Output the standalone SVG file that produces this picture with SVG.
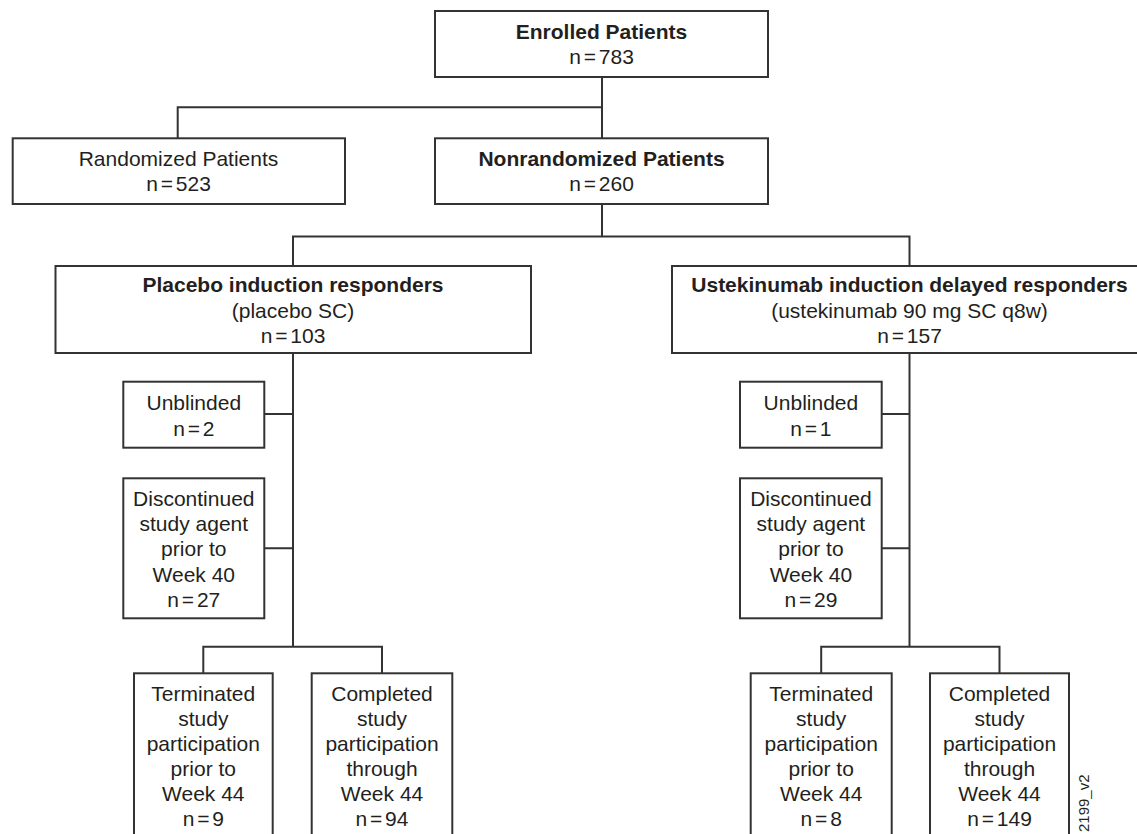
<svg xmlns="http://www.w3.org/2000/svg" width="1137" height="834" viewBox="0 0 1137 834">
<style>
.box{fill:#fff;stroke:#333;stroke-width:2}
.ln{fill:none;stroke:#333;stroke-width:2}
text{font-family:"Liberation Sans",Arial,sans-serif;font-size:21px;fill:#231f20;text-anchor:middle}
.b{font-weight:bold}
.n{word-spacing:-3px}
.id{font-size:15px;text-anchor:start}
</style>
<rect width="1137" height="834" fill="#fff"/>
<g id="connectors">
<path class="ln" d="M602,77V138M177.7,138V107.3H602"/>
<path class="ln" d="M602,204V236.5M293,266V236.5H909.5V266"/>
<path class="ln" d="M293,353V646.7M264.3,414H293M264.3,548.3H293M203.3,673.3V646.7H382V673.3"/>
<path class="ln" d="M909.5,353V646.7M881.7,414H909.5M881.7,548.3H909.5M821.2,673.3V646.7H999.5V673.3"/>
</g>
<g id="enrolled">
<rect class="box" x="435" y="11" width="333" height="66"/>
<text class="b" x="601.5" y="38.5">Enrolled Patients</text>
<text class="n" x="601.5" y="63.5">n = 783</text>
</g>
<g id="randomized">
<rect class="box" x="12.7" y="138.3" width="332.3" height="65.7"/>
<text x="178.5" y="166">Randomized Patients</text>
<text class="n" x="178.5" y="191">n = 523</text>
</g>
<g id="nonrandomized">
<rect class="box" x="435" y="138.3" width="333" height="65.7"/>
<text class="b" x="601.5" y="166">Nonrandomized Patients</text>
<text class="n" x="601.5" y="191">n = 260</text>
</g>
<g id="placebo">
<rect class="box" x="55.5" y="266" width="475.5" height="87"/>
<text class="b" x="293" y="292">Placebo induction responders</text>
<text x="293" y="317.5">(placebo SC)</text>
<text class="n" x="293" y="343">n = 103</text>
</g>
<g id="ustekinumab">
<rect class="box" x="672" y="266" width="475" height="87"/>
<text class="b" x="909.5" y="292">Ustekinumab induction delayed responders</text>
<text x="909.5" y="317.5">(ustekinumab 90 mg SC q8w)</text>
<text class="n" x="909.5" y="343">n = 157</text>
</g>
<g id="unblinded-left">
<rect class="box" x="123.3" y="381.7" width="141" height="66"/>
<text x="193.8" y="410">Unblinded</text>
<text class="n" x="193.8" y="436">n = 2</text>
</g>
<g id="discontinued-left">
<rect class="box" x="123.3" y="478.3" width="141" height="140"/>
<text x="193.8" y="506">Discontinued</text>
<text x="193.8" y="531">study agent</text>
<text x="193.8" y="556">prior to</text>
<text x="193.8" y="581.5">Week 40</text>
<text class="n" x="193.8" y="606.5">n = 27</text>
</g>
<g id="terminated-left">
<rect class="box" x="134" y="673.3" width="138.7" height="180"/>
<text x="203.3" y="701">Terminated</text>
<text x="203.3" y="726">study</text>
<text x="203.3" y="751">participation</text>
<text x="203.3" y="776">prior to</text>
<text x="203.3" y="801">Week 44</text>
<text class="n" x="203.3" y="826">n = 9</text>
</g>
<g id="completed-left">
<rect class="box" x="311.7" y="673.3" width="140.6" height="180"/>
<text x="382" y="701">Completed</text>
<text x="382" y="726">study</text>
<text x="382" y="751">participation</text>
<text x="382" y="776">through</text>
<text x="382" y="801">Week 44</text>
<text class="n" x="382" y="826">n = 94</text>
</g>
<g id="unblinded-right">
<rect class="box" x="740" y="381.7" width="141.7" height="66"/>
<text x="810.9" y="410">Unblinded</text>
<text class="n" x="810.9" y="436">n = 1</text>
</g>
<g id="discontinued-right">
<rect class="box" x="740" y="478.3" width="141.7" height="140"/>
<text x="810.9" y="506">Discontinued</text>
<text x="810.9" y="531">study agent</text>
<text x="810.9" y="556">prior to</text>
<text x="810.9" y="581.5">Week 40</text>
<text class="n" x="810.9" y="606.5">n = 29</text>
</g>
<g id="terminated-right">
<rect class="box" x="750.7" y="673.3" width="141" height="180"/>
<text x="821.2" y="701">Terminated</text>
<text x="821.2" y="726">study</text>
<text x="821.2" y="751">participation</text>
<text x="821.2" y="776">prior to</text>
<text x="821.2" y="801">Week 44</text>
<text class="n" x="821.2" y="826">n = 8</text>
</g>
<g id="completed-right">
<rect class="box" x="930" y="673.3" width="139" height="180"/>
<text x="999.5" y="701">Completed</text>
<text x="999.5" y="726">study</text>
<text x="999.5" y="751">participation</text>
<text x="999.5" y="776">through</text>
<text x="999.5" y="801">Week 44</text>
<text class="n" x="999.5" y="826">n = 149</text>
</g>
<text class="id" transform="translate(1089,832) rotate(-90)">2199_v2</text>
</svg>
